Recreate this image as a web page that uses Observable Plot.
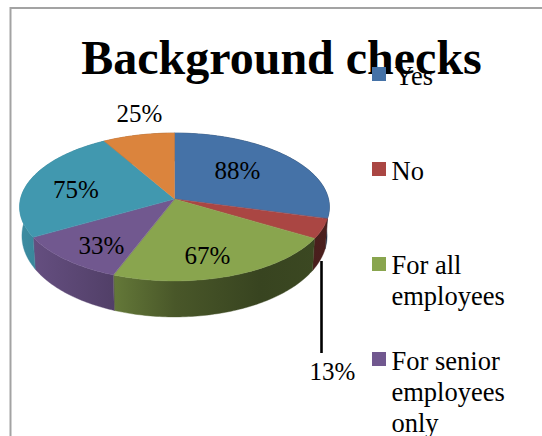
<!DOCTYPE html>
<html>
<head>
<meta charset="utf-8">
<script src="https://cdn.jsdelivr.net/npm/d3@7"></script>
<script src="https://cdn.jsdelivr.net/npm/@observablehq/plot@0.6"></script>
<style>
  html, body { margin: 0; padding: 0; background: #fff; }
  svg { display: block; }
</style>
</head>
<body>
<div id="chart"></div>
<script>
const titleText = "Background checks";
const categories = ["Yes", "No", "For all\nemployees", "For senior\nemployees\nonly", "Other A", "Other B"];
const percentages = [88, 13, 67, 33, 75, 25];
const sliceColors = ["#4572a7", "#aa4643", "#89a54e", "#71588f", "#4198af", "#db843d"];

// Layout of the tilted disc, in pixels.
const W = 542, H = 436;
const disc = {cx: 174.5, cy: 199, rx: 154, ry: 73.1, persp: 0.108, inset: 0.985};
const wallDepth = c => 28 - 8 * Math.min(c, 0);
const shadeStops = [[20, 0.92], [116, 0.72], [175, 0.53], [260, 0.41], [330, 0.44]];
const wallShade = d3.scaleLinear(shadeStops.map(d => d[0]), shadeStops.map(d => d[1]));

function rim(angle) {
  const s = Math.sin(angle), c = Math.cos(angle), w = 1 + disc.persp * c;
  return {x: disc.cx + disc.rx * s / w, y: disc.cy - disc.ry * c / w, c};
}
function rimBottom(angle) {
  const p = rim(angle);
  return {x: disc.cx + (p.x - disc.cx) * disc.inset, y: p.y + wallDepth(p.c)};
}
function darken(color, k) {
  const {r, g, b} = d3.rgb(color);
  return d3.rgb(r * k, g * k, b * k).formatHex();
}

// Cut the values into angular spans, clockwise from twelve o'clock.
const total = d3.sum(percentages);
let running = 0;
const spans = percentages.map((v, i) => {
  const a0 = running / total * 2 * Math.PI;
  running += v;
  return {i, a0, a1: running / total * 2 * Math.PI, color: sliceColors[i]};
});
const step = Math.PI / 180;

const topFaces = spans.flatMap(({i, a0, a1, color}) => {
  const n = Math.ceil((a1 - a0) / step);
  return d3.range(n + 1).map(j => {
    const p = rim(a0 + (a1 - a0) * j / n);
    return {key: i, color, x1: p.x, y1: p.y, x2: disc.cx, y2: disc.cy};
  });
});

// Each slice has one wall band, filled with a horizontal shading gradient.
const wallBands = spans.flatMap(({i, a0, a1}) => {
  const n = Math.ceil((a1 - a0) / step);
  return d3.range(n + 1).map(j => {
    const b = a0 + (a1 - a0) * j / n, t = rim(b), u = rimBottom(b);
    return {key: i, fill: `url(#wall-${i})`, x1: t.x, y1: t.y, x2: u.x, y2: u.y};
  });
});

function wallGradients() {
  const ns = "http://www.w3.org/2000/svg";
  const defs = document.createElementNS(ns, "defs");
  spans.forEach(({i, color}) => {
    const g = document.createElementNS(ns, "linearGradient");
    g.setAttribute("id", `wall-${i}`);
    g.setAttribute("gradientUnits", "userSpaceOnUse");
    g.setAttribute("x1", 20);
    g.setAttribute("x2", 330);
    g.setAttribute("y1", 0);
    g.setAttribute("y2", 0);
    shadeStops.forEach(([x, k]) => {
      const stop = document.createElementNS(ns, "stop");
      stop.setAttribute("offset", (x - 20) / 310);
      stop.setAttribute("stop-color", darken(color, k));
      g.append(stop);
    });
    defs.append(g);
  });
  return defs;
}

const labelRows = percentages.map((v, i) => ({
  text: `${v}%`,
  x: [237, 332, 207, 101, 75.5, 139][i],
  y: [178, 379, 263, 253, 197, 121][i]
}));

const legendSlots = [
  {swatchTop: 67, textX: 394, baseline: 84},
  {swatchTop: 162, textX: 391, baseline: 179},
  {swatchTop: 257, textX: 391, baseline: 273},
  {swatchTop: 352, textX: 391, baseline: 369}
];
const legendSwatches = legendSlots.map((slot, i) => ({
  x1: 372, x2: 386, y1: slot.swatchTop, y2: slot.swatchTop + 14, color: sliceColors[i]
}));
const legendLines = legendSlots.flatMap((slot, i) =>
  categories[i].split("\n").map((line, j) => ({line, x: slot.textX, y: slot.baseline + j * 31}))
);

const serif = "Liberation Serif, Times New Roman, serif";

const chart = Plot.plot({
  width: W,
  height: H,
  margin: 0,
  style: {background: "#fff", overflow: "hidden"},
  x: {type: "linear", domain: [0, W], range: [0, W], axis: null},
  y: {type: "linear", domain: [0, H], range: [0, H], axis: null},
  marks: [
    wallGradients,

    // chart frame
    Plot.ruleY([7.5], {x1: 10, x2: W, stroke: "#a3a3a3", strokeWidth: 2}),
    Plot.ruleX([10], {y1: 7, y2: H, stroke: "#a3a3a3", strokeWidth: 2}),

    Plot.text([titleText], {
      x: () => 281, y: () => 73, text: d => d, fontFamily: serif, fontWeight: "bold",
      fontSize: 48, fill: "#000", textAnchor: "middle", lineAnchor: "bottom"
    }),

    // walls first, the top face covers whatever lies behind it
    ...spans.map(({i}) => Plot.area(wallBands.filter(d => d.key === i), {
      x1: "x1", y1: "y1", x2: "x2", y2: "y2", fill: `url(#wall-${i})`,
      stroke: `url(#wall-${i})`, strokeWidth: 0.4
    })),
    Plot.area(topFaces, {
      x1: "x1", y1: "y1", x2: "x2", y2: "y2", z: "key", fill: "color",
      stroke: "color", strokeWidth: 0.4
    }),

    // leader line for the narrow slice
    Plot.ruleX([321], {y1: 261, y2: 353, stroke: "#000", strokeWidth: 2.6}),

    Plot.text(labelRows, {
      x: "x", y: "y", text: "text", fontFamily: serif, fontSize: 25, fill: "#000",
      textAnchor: "middle", lineAnchor: "bottom"
    }),

    Plot.rect(legendSwatches, {x1: "x1", x2: "x2", y1: "y1", y2: "y2", fill: "color"}),
    Plot.text(legendLines, {
      x: "x", y: "y", text: "line", fontFamily: serif, fontSize: 26.5, fill: "#000",
      textAnchor: "start", lineAnchor: "bottom"
    })
  ]
});
document.getElementById("chart").append(chart);
</script>
</body>
</html>
